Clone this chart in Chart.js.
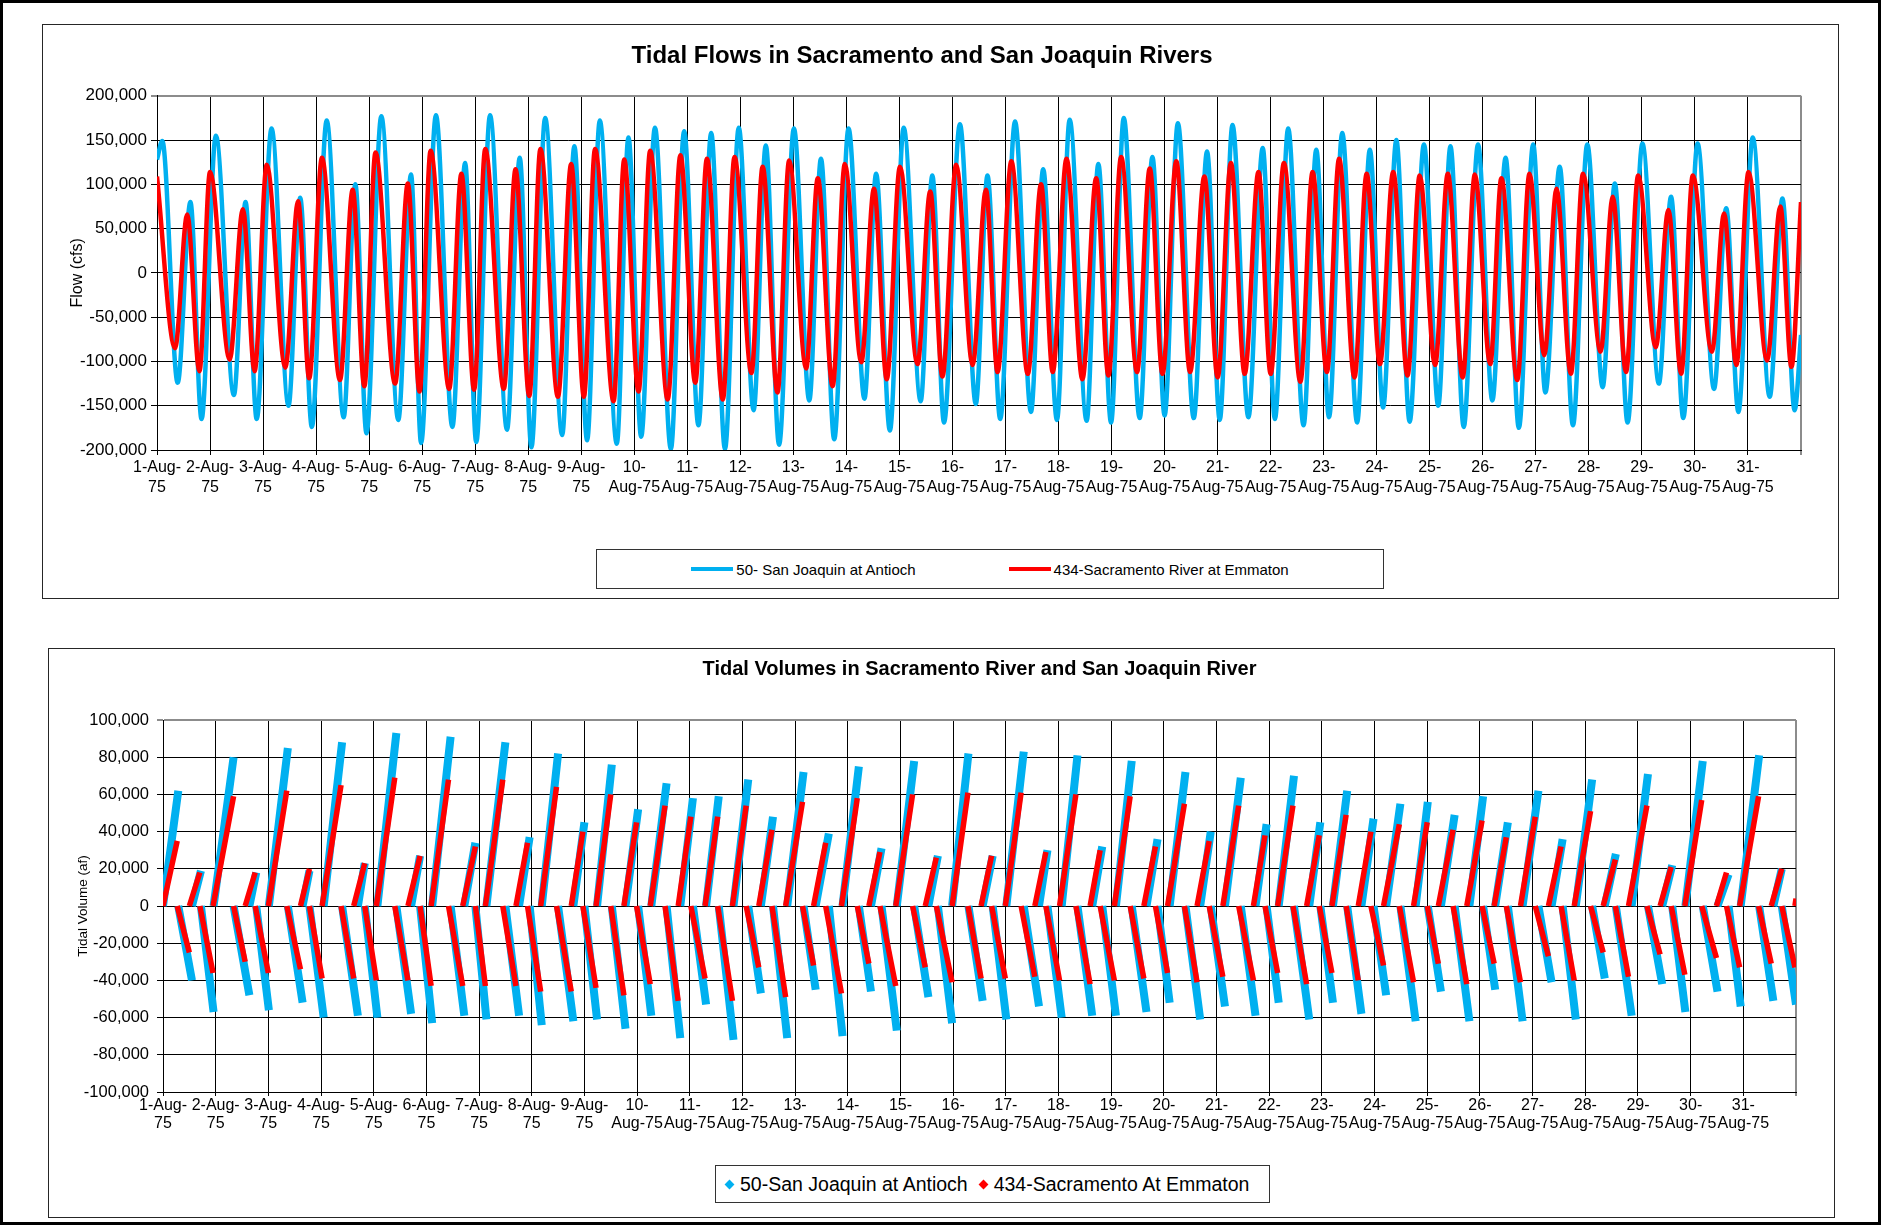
<!DOCTYPE html>
<html>
<head>
<meta charset="utf-8">
<title>Tidal Flows and Volumes, August 1975</title>
<script src="https://cdn.jsdelivr.net/npm/chart.js@4.4.1/dist/chart.umd.min.js"></script>
<style>
  body { margin: 0; background: #fff; }
  #page {
    position: relative; width: 1881px; height: 1225px; box-sizing: border-box;
    border: 3px solid #000; background: #fff;
    font-family: "Liberation Sans", Arial, sans-serif; color: #000;
  }
  .panel { position: absolute; border: 1px solid #262626; background: #fff; }
  .panel canvas { display: block; }
  #flowPanel { left: 39px; top: 21px; width: 1795px; height: 573px; }
  #volPanel { left: 45px; top: 645px; width: 1785px; height: 568px; }
  .legend {
    position: absolute; box-sizing: border-box; border: 1px solid #333;
    display: flex; align-items: center; background: #fff; white-space: nowrap;
  }
  .legend .item { display: flex; align-items: center; }
  #flowLegend { left: 553px; top: 524px; width: 788px; height: 40px; justify-content: center; gap: 93px; font-size: 15px; }
  #volLegend { left: 666px; top: 516px; width: 555px; height: 38px; padding-left: 10px; gap: 12px; font-size: 19.5px; }
  .swatch-line { width: 42px; height: 4px; margin-right: 3px; }
  .swatch-diamond { width: 7px; height: 7px; margin-right: 7px; transform: rotate(45deg); }
</style>
</head>
<body>
<div id="page">
  <div class="panel" id="flowPanel">
    <canvas id="flowChart" width="1795" height="573"></canvas>
    <div class="legend" id="flowLegend"></div>
  </div>
  <div class="panel" id="volPanel">
    <canvas id="volChart" width="1785" height="568"></canvas>
    <div class="legend" id="volLegend"></div>
  </div>
</div>
<script>
// x axis: days since 1-Aug-75 00:00, one gridline per day
const dayLabels = [
  "1-Aug-75", "2-Aug-75", "3-Aug-75", "4-Aug-75", "5-Aug-75", "6-Aug-75", "7-Aug-75", "8-Aug-75",
  "9-Aug-75", "10-Aug-75", "11-Aug-75", "12-Aug-75", "13-Aug-75", "14-Aug-75", "15-Aug-75", "16-Aug-75",
  "17-Aug-75", "18-Aug-75", "19-Aug-75", "20-Aug-75", "21-Aug-75", "22-Aug-75", "23-Aug-75", "24-Aug-75",
  "25-Aug-75", "26-Aug-75", "27-Aug-75", "28-Aug-75", "29-Aug-75", "30-Aug-75", "31-Aug-75"
];

// tidal flow (cfs): [day, flow] at each high / low
const sjFlow = [
  [0, 128000], [0.10, 149000], [0.39, -124000], [0.63, 80000], [0.84, -165000], [1.11, 155000],
  [1.45, -138000], [1.67, 80000], [1.88, -165000], [2.16, 163000], [2.48, -150000], [2.70, 85000],
  [2.92, -174000], [3.20, 172000], [3.52, -163000], [3.74, 100000], [3.95, -181000], [4.23, 177000],
  [4.55, -166000], [4.79, 111000], [4.98, -192000], [5.26, 178000], [5.57, -174000], [5.81, 124000],
  [6.02, -191000], [6.28, 178000], [6.60, -177000], [6.84, 130000], [7.06, -197000], [7.32, 175000],
  [7.64, -183000], [7.87, 143000], [8.11, -189000], [8.35, 172000], [8.67, -193000], [8.89, 153000],
  [9.13, -185000], [9.39, 164000], [9.69, -199000], [9.94, 160000], [10.21, -172000], [10.45, 158000],
  [10.71, -199000], [10.97, 164000], [11.25, -155000], [11.48, 144000], [11.73, -194000], [12.01, 163000],
  [12.30, -144000], [12.52, 129000], [12.77, -188000], [13.04, 163000], [13.34, -142000], [13.56, 112000],
  [13.82, -178000], [14.08, 164000], [14.40, -145000], [14.62, 110000], [14.84, -169000], [15.14, 168000],
  [15.44, -148000], [15.66, 110000], [15.90, -165000], [16.18, 171000], [16.48, -157000], [16.71, 117000],
  [16.97, -166000], [17.21, 173000], [17.53, -167000], [17.75, 123000], [17.99, -169000], [18.23, 175000],
  [18.53, -164000], [18.77, 131000], [19.00, -161000], [19.25, 169000], [19.55, -164000], [19.80, 137000],
  [20.04, -166000], [20.28, 167000], [20.58, -163000], [20.85, 141000], [21.08, -165000], [21.33, 163000],
  [21.62, -172000], [21.86, 139000], [22.10, -163000], [22.35, 158000], [22.63, -169000], [22.87, 139000],
  [23.12, -152000], [23.37, 150000], [23.62, -168000], [23.89, 145000], [24.16, -150000], [24.39, 143000],
  [24.64, -174000], [24.91, 145000], [25.18, -144000], [25.43, 130000], [25.68, -175000], [25.95, 145000],
  [26.18, -135000], [26.45, 120000], [26.70, -172000], [26.97, 145000], [27.26, -129000], [27.49, 101000],
  [27.73, -169000], [28.01, 146000], [28.32, -125000], [28.55, 86000], [28.78, -164000], [29.05, 146000],
  [29.36, -131000], [29.59, 73000], [29.82, -157000], [30.09, 153000], [30.41, -140000], [30.65, 84000],
  [30.88, -155000], [31.00, -70000]
];

const sacFlow = [
  [0, 109000], [0.34, -85000], [0.57, 66000], [0.80, -111000], [1.00, 114000], [1.37, -98000],
  [1.62, 72000], [1.84, -111000], [2.07, 122000], [2.42, -107000], [2.66, 81000], [2.87, -119000],
  [3.11, 130000], [3.45, -121000], [3.69, 94000], [3.91, -128000], [4.12, 136000], [4.49, -125000],
  [4.73, 101000], [4.95, -134000], [5.16, 138000], [5.51, -131000], [5.74, 112000], [5.98, -132000],
  [6.19, 140000], [6.54, -131000], [6.76, 117000], [7.02, -139000], [7.23, 140000], [7.56, -140000],
  [7.81, 123000], [8.05, -140000], [8.26, 140000], [8.61, -145000], [8.81, 128000], [9.08, -134000],
  [9.30, 138000], [9.63, -143000], [9.87, 133000], [10.15, -124000], [10.37, 129000], [10.67, -143000],
  [10.89, 131000], [11.21, -113000], [11.42, 120000], [11.70, -135000], [11.92, 127000], [12.24, -108000],
  [12.46, 107000], [12.74, -128000], [12.97, 123000], [13.28, -101000], [13.52, 95000], [13.76, -120000],
  [14.01, 120000], [14.34, -103000], [14.58, 92000], [14.81, -117000], [15.07, 122000], [15.38, -104000],
  [15.63, 94000], [15.85, -112000], [16.11, 126000], [16.42, -114000], [16.67, 100000], [16.89, -112000],
  [17.15, 129000], [17.45, -120000], [17.71, 107000], [17.94, -116000], [18.18, 131000], [18.48, -112000],
  [18.72, 118000], [18.96, -114000], [19.22, 126000], [19.48, -112000], [19.75, 109000], [20.00, -118000],
  [20.25, 124000], [20.51, -114000], [20.77, 114000], [21.00, -114000], [21.25, 124000], [21.56, -123000],
  [21.79, 114000], [22.06, -112000], [22.29, 129000], [22.58, -118000], [22.81, 112000], [23.06, -103000],
  [23.31, 114000], [23.58, -116000], [23.81, 110000], [24.10, -104000], [24.34, 112000], [24.62, -118000],
  [24.85, 111000], [25.14, -103000], [25.35, 107000], [25.65, -121000], [25.88, 112000], [26.16, -93000],
  [26.39, 95000], [26.66, -114000], [26.89, 112000], [27.22, -89000], [27.45, 86000], [27.70, -112000],
  [27.93, 110000], [28.26, -84000], [28.50, 71000], [28.74, -114000], [28.96, 110000], [29.32, -89000],
  [29.55, 67000], [29.78, -104000], [30.01, 114000], [30.36, -99000], [30.61, 75000], [30.82, -106000],
  [31.00, 80000]
];

// tidal volume (af): [day the half-tide ends, accumulated volume]; each starts at 0 where the last one ended
const sjVolume = [
  [0.29, 62000], [0.55, -40000], [0.72, 19000], [0.96, -57000], [1.34, 80000], [1.64, -48000],
  [1.77, 18000], [2.01, -56000], [2.37, 85000], [2.65, -52000], [2.78, 19000], [3.05, -60000],
  [3.40, 88000], [3.70, -59000], [3.83, 23000], [4.07, -60000], [4.43, 93000], [4.71, -58000],
  [4.88, 27000], [5.11, -63000], [5.46, 91000], [5.72, -59000], [5.93, 34000], [6.14, -61000],
  [6.50, 88000], [6.76, -59000], [6.96, 37000], [7.19, -64000], [7.50, 82000], [7.79, -62000],
  [8.00, 45000], [8.24, -61000], [8.52, 76000], [8.78, -66000], [9.02, 52000], [9.27, -59000],
  [9.56, 66000], [9.82, -71000], [10.06, 58000], [10.31, -53000], [10.55, 59000], [10.83, -72000],
  [11.11, 68000], [11.35, -47000], [11.58, 48000], [11.85, -71000], [12.16, 72000], [12.39, -45000],
  [12.64, 39000], [12.90, -70000], [13.21, 75000], [13.44, -46000], [13.64, 31000], [13.93, -67000],
  [14.26, 78000], [14.53, -49000], [14.71, 27000], [14.98, -63000], [15.29, 82000], [15.56, -51000],
  [15.75, 27000], [16.01, -61000], [16.34, 83000], [16.63, -54000], [16.79, 30000], [17.06, -60000],
  [17.36, 81000], [17.64, -59000], [17.83, 32000], [18.09, -59000], [18.39, 78000], [18.67, -57000],
  [18.88, 36000], [19.11, -52000], [19.41, 72000], [19.69, -61000], [19.89, 40000], [20.16, -54000],
  [20.46, 69000], [20.74, -59000], [20.95, 44000], [21.18, -52000], [21.47, 70000], [21.76, -61000],
  [21.97, 45000], [22.21, -52000], [22.48, 62000], [22.75, -58000], [22.98, 47000], [23.22, -48000],
  [23.49, 55000], [23.78, -62000], [24.01, 56000], [24.26, -46000], [24.52, 49000], [24.80, -62000],
  [25.06, 59000], [25.29, -45000], [25.53, 45000], [25.81, -62000], [26.11, 62000], [26.36, -41000],
  [26.57, 36000], [26.82, -61000], [27.13, 68000], [27.37, -39000], [27.58, 28000], [27.88, -59000],
  [28.19, 71000], [28.46, -42000], [28.65, 22000], [28.90, -57000], [29.23, 78000], [29.51, -46000],
  [29.72, 17000], [29.95, -54000], [30.30, 81000], [30.57, -51000], [30.73, 20000], [31.00, -53000]
];

const sacVolume = [
  [0.27, 35000], [0.50, -25000], [0.70, 18000], [0.95, -36000], [1.34, 59000], [1.56, -30000],
  [1.75, 18000], [2.00, -36000], [2.35, 62000], [2.61, -34000], [2.78, 20000], [3.02, -39000],
  [3.38, 65000], [3.62, -39000], [3.83, 23000], [4.05, -40000], [4.40, 69000], [4.65, -40000],
  [4.88, 27000], [5.09, -43000], [5.42, 68000], [5.69, -43000], [5.93, 32000], [6.12, -43000],
  [6.45, 68000], [6.70, -43000], [6.92, 34000], [7.17, -46000], [7.47, 64000], [7.75, -46000],
  [7.97, 40000], [8.22, -44000], [8.50, 60000], [8.75, -48000], [8.99, 45000], [9.25, -42000],
  [9.53, 54000], [9.78, -51000], [10.02, 48000], [10.29, -39000], [10.53, 48000], [10.81, -51000],
  [11.07, 54000], [11.31, -33000], [11.56, 41000], [11.82, -49000], [12.14, 56000], [12.35, -32000],
  [12.58, 34000], [12.88, -47000], [13.18, 58000], [13.40, -31000], [13.61, 29000], [13.91, -43000],
  [14.23, 60000], [14.47, -33000], [14.68, 26000], [14.98, -41000], [15.28, 61000], [15.53, -39000],
  [15.73, 27000], [15.99, -39000], [16.29, 61000], [16.55, -38000], [16.76, 29000], [17.02, -40000],
  [17.33, 60000], [17.60, -42000], [17.79, 30000], [18.06, -40000], [18.36, 59000], [18.62, -39000],
  [18.84, 32000], [19.07, -36000], [19.39, 55000], [19.63, -41000], [19.86, 35000], [20.12, -38000],
  [20.42, 54000], [20.70, -40000], [20.92, 38000], [21.16, -36000], [21.45, 54000], [21.71, -42000],
  [21.95, 38000], [22.19, -36000], [22.46, 49000], [22.69, -40000], [22.93, 40000], [23.17, -32000],
  [23.47, 44000], [23.74, -41000], [24.00, 45000], [24.21, -31000], [24.49, 41000], [24.75, -42000],
  [25.04, 46000], [25.27, -31000], [25.50, 37000], [25.77, -41000], [26.05, 48000], [26.30, -27000],
  [26.54, 32000], [26.79, -40000], [27.10, 51000], [27.34, -25000], [27.57, 25000], [27.82, -38000],
  [28.17, 54000], [28.42, -26000], [28.63, 21000], [28.89, -37000], [29.21, 57000], [29.49, -28000],
  [29.68, 18000], [29.93, -33000], [30.29, 59000], [30.53, -31000], [30.73, 20000], [30.98, -33000],
  [31.00, 4000]
];

const BLUE = "#00b0f0";
const RED = "#ff0000";

Chart.defaults.font.family = '"Liberation Sans", Arial, sans-serif';
Chart.defaults.color = "#000";

const toPoints = (pairs) => pairs.map(([x, y]) => ({ x, y }));

// each half-tide is its own run from 0, broken off with a null
function rampPoints(ramps) {
  const pts = [];
  let start = 0;
  ramps.forEach(([end, vol]) => {
    pts.push({ x: start, y: 0 }, { x: end, y: vol }, { x: end, y: null });
    start = end;
  });
  return pts;
}

// Excel wrapped the dates at a hyphen
function dayTick(value) {
  const label = dayLabels[Math.round(value)];
  if (!label) return "";
  const [d, m, y] = label.split("-");
  return d.length === 1 ? [`${d}-${m}-`, y] : [`${d}-`, `${m}-${y}`];
}

const edgeColor = (edge) => (ctx) => (ctx.tick && ctx.tick.value === edge ? "#8c8c8c" : "#000");
const edgeWidth = (edge) => (ctx) => (ctx.tick && ctx.tick.value === edge ? 2 : 1);

function buildLegend(chart, el, swatchClass) {
  el.innerHTML = "";
  chart.data.datasets.forEach((ds) => {
    const item = document.createElement("span");
    item.className = "item";
    const swatch = document.createElement("span");
    swatch.className = swatchClass;
    swatch.style.background = ds.borderColor;
    item.appendChild(swatch);
    item.appendChild(document.createTextNode(ds.label));
    el.appendChild(item);
  });
}

const flowChart = new Chart(document.getElementById("flowChart"), {
  type: "line",
  data: {
    datasets: [
      {
        label: "50- San Joaquin at Antioch",
        data: toPoints(sjFlow),
        borderColor: BLUE,
        backgroundColor: BLUE,
        borderWidth: 4.5,
        pointRadius: 0,
        cubicInterpolationMode: "monotone",
        order: 1,
      },
      {
        label: "434-Sacramento River at Emmaton",
        data: toPoints(sacFlow),
        borderColor: RED,
        backgroundColor: RED,
        borderWidth: 4.5,
        pointRadius: 0,
        cubicInterpolationMode: "monotone",
        order: 0,
      },
    ],
  },
  options: {
    responsive: false,
    animation: false,
    events: [],
    layout: { padding: { left: 0, right: 37, top: 0, bottom: 100 } },
    plugins: {
      legend: { display: false },
      tooltip: { enabled: false },
      title: {
        display: true,
        text: "Tidal Flows in Sacramento and San Joaquin Rivers",
        color: "#000",
        font: { size: 24, weight: "bold" },
        padding: { top: 17, bottom: 25 },
      },
    },
    scales: {
      x: {
        type: "linear",
        min: 0,
        max: 31,
        afterFit: (scale) => { scale.height = 48; },
        ticks: {
          stepSize: 1, autoSkip: false, maxRotation: 0, minRotation: 0, padding: 3,
          font: { size: 16, lineHeight: 1.25 }, callback: dayTick,
        },
        grid: { color: edgeColor(31), lineWidth: edgeWidth(31), tickLength: 5 },
        border: { color: "#000", width: 1 },
      },
      y: {
        min: -200000,
        max: 200000,
        afterFit: (scale) => { scale.width = 114; },
        ticks: { stepSize: 50000, padding: 4, font: { size: 17 }, callback: (v) => v.toLocaleString("en-US") },
        grid: { color: edgeColor(200000), lineWidth: edgeWidth(200000), tickLength: 6 },
        border: { color: "#000", width: 1 },
        title: { display: true, text: "Flow (cfs)", font: { size: 16 }, padding: { top: 25, bottom: 0 } },
      },
    },
  },
});

const volChart = new Chart(document.getElementById("volChart"), {
  type: "line",
  data: {
    datasets: [
      {
        label: "50-San Joaquin at Antioch",
        data: rampPoints(sjVolume),
        borderColor: BLUE,
        backgroundColor: BLUE,
        borderWidth: 8,
        pointRadius: 0,
        spanGaps: false,
        order: 1,
      },
      {
        label: "434-Sacramento At Emmaton",
        data: rampPoints(sacVolume),
        borderColor: RED,
        backgroundColor: RED,
        borderWidth: 5.5,
        pointRadius: 0,
        spanGaps: false,
        order: 0,
      },
    ],
  },
  options: {
    responsive: false,
    animation: false,
    events: [],
    layout: { padding: { left: 0, right: 38, top: 0, bottom: 81 } },
    plugins: {
      legend: { display: false },
      tooltip: { enabled: false },
      title: {
        display: true,
        fullSize: false,
        text: "Tidal Volumes in Sacramento River and San Joaquin River",
        color: "#000",
        font: { size: 20, weight: "bold" },
        padding: { top: 8, bottom: 39 },
      },
    },
    scales: {
      x: {
        type: "linear",
        min: 0,
        max: 31,
        afterFit: (scale) => { scale.height = 44; },
        ticks: {
          stepSize: 1, autoSkip: false, maxRotation: 0, minRotation: 0, padding: 1,
          font: { size: 16, lineHeight: 1.1 }, callback: dayTick,
        },
        grid: { color: edgeColor(31), lineWidth: edgeWidth(31), tickLength: 4 },
        border: { color: "#000", width: 1 },
      },
      y: {
        min: -100000,
        max: 100000,
        afterFit: (scale) => { scale.width = 114; },
        ticks: { stepSize: 20000, padding: 8, font: { size: 16.5 }, callback: (v) => v.toLocaleString("en-US") },
        grid: { color: edgeColor(100000), lineWidth: edgeWidth(100000), tickLength: 6 },
        border: { color: "#000", width: 1 },
        title: { display: true, text: "Tidal Volume (af)", font: { size: 13.5 }, padding: { top: 26, bottom: 0 } },
      },
    },
  },
});

buildLegend(flowChart, document.getElementById("flowLegend"), "swatch-line");
buildLegend(volChart, document.getElementById("volLegend"), "swatch-diamond");
</script>
</body>
</html>
